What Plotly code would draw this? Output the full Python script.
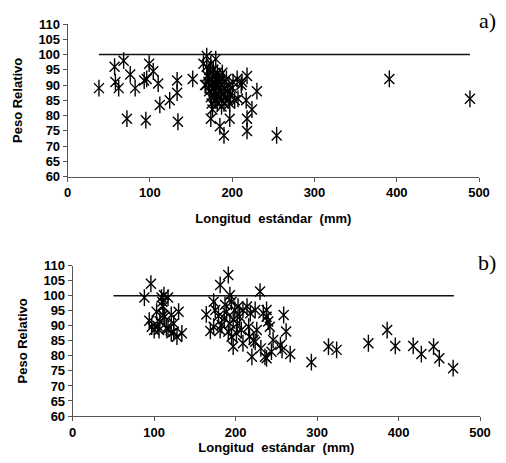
import plotly.graph_objects as go

# ---- Panel a) data ----
xa = [38, 57, 58, 62, 68, 72, 76, 82, 93, 96, 95, 99, 104, 110, 112, 124, 133, 133, 134, 152,
      165, 167, 169, 180,
      168, 169, 170, 171, 172, 172, 173, 174, 174, 175, 175, 176, 176, 177, 177, 178, 178,
      179, 179, 180, 180, 181, 181, 182, 182, 183, 184, 184, 185, 186, 187, 187, 188, 189,
      190, 190, 191, 192, 193, 194, 195, 196, 197, 198, 200, 201, 203,
      174, 187, 185, 190, 197, 206, 207, 211, 212, 218, 217, 218, 218, 224, 230, 254, 391, 489]
ya = [89, 96, 91, 89, 98, 79, 93.5, 89, 91.5, 92, 78.5, 97, 94.5, 90.5, 83.5, 85, 91.5, 87.5, 78, 92,
      97, 90, 99.5, 98.5,
      90, 96, 93, 91, 95, 88, 92, 86, 97, 90, 84, 93, 82, 89, 95, 91, 86,
      88, 93, 90, 85, 92, 87, 94, 84, 89, 91, 86, 93, 88, 85, 90, 94, 87,
      84, 91, 89, 86, 92, 88, 85, 90, 84, 87, 89, 91, 85,
      79, 83, 76.5, 73.5, 79, 92, 85.5, 90, 91, 93, 85, 79, 75, 82, 88, 73.5, 92, 85.5]

# ---- Panel b) data ----
xb = [88, 96, 94, 97, 100, 103, 107, 109, 110, 111, 112, 106, 113, 115, 117, 121, 124, 121, 128, 130, 134,
      111, 104, 117, 124,
      164, 169, 173, 175, 179, 181, 183, 186, 189, 191, 193, 195, 197, 197, 199, 201, 202, 205,
      207, 209, 214, 217, 218, 220, 222, 224, 226, 230, 231, 234, 236, 238, 238, 240, 242, 244,
      246, 255, 257, 259, 262, 267,
      191, 195, 181, 203, 216, 224, 209, 193, 187, 173, 238,
      293, 314, 324, 363, 386, 396, 418, 428, 443, 450, 467]
yb = [99.4, 104, 91.7, 89.7, 88.6, 94.7, 91.4, 99.4, 98, 96.4, 100.2, 88.6, 93, 89.2, 99.4, 87.5, 90.8, 93.6, 86.4, 94.7, 87.5,
      93.5, 90, 89, 88,
      93.8, 88.3, 98, 95.3, 93.3, 103.6, 90.3, 92.5, 94.7, 106.9, 100.2, 98, 92, 83.1, 95.3, 87.5, 90.8, 93,
      88.6, 95.3, 96.4, 86.4, 94.2, 79.7, 85.3, 95.3, 88.6, 101.4, 82.5, 94.2, 79.7, 79.2, 93, 91.4, 89.7, 81.4,
      85.3, 83.6, 82, 93.6, 88.1, 80.6,
      88, 86.4, 88.6, 96.4, 89.7, 84.7, 84.2, 90.8, 97, 89.7, 95.3,
      77.9, 83.1, 82, 84.2, 88.6, 83.3, 83.3, 80.6, 83.1, 79.2, 75.9]

# reference line (Peso Relativo = 100)
ref_a_x = [38, 489]
ref_b_x = [50, 468]
ref_y = [100, 100]

x_ticks = [0, 100, 200, 300, 400, 500]
y_ticks = [60, 65, 70, 75, 80, 85, 90, 95, 100, 105, 110]

fig = go.Figure()

def add_panel(xs, ys, refx, xa_name, ya_name):
    fig.add_trace(go.Scatter(x=refx, y=ref_y, mode="lines", line=dict(color="#111", width=1.6),
                             xaxis=xa_name, yaxis=ya_name, showlegend=False, hoverinfo="skip"))
    fig.add_trace(go.Scatter(x=xs, y=ys, mode="markers",
                             marker=dict(symbol="x-thin-open", size=10, color="black",
                                         line=dict(color="black", width=1.4)),
                             xaxis=xa_name, yaxis=ya_name, showlegend=False))
    fig.add_trace(go.Scatter(x=xs, y=ys, mode="markers",
                             marker=dict(symbol="line-ns-open", size=12, color="black",
                                         line=dict(color="black", width=1.4)),
                             xaxis=xa_name, yaxis=ya_name, showlegend=False, hoverinfo="skip"))

add_panel(xa, ya, ref_a_x, "x", "y")
add_panel(xb, yb, ref_b_x, "x2", "y2")

# page body has an 8px default margin; size the figure so it fits the window
OFF = 8
W, H = 506 - 2 * OFF, 463 - 2 * OFF

def px_x(p):
    return (p - OFF) / W

def px_y(p):
    return 1 - (p - OFF) / H

tickfont = dict(family="Liberation Sans, Arial", size=13, color="black")
titlefont = dict(family="Liberation Sans, Arial", size=13, color="black")

def xaxis_def(dom, anchor):
    return dict(domain=dom, anchor=anchor, range=[0, 500], tickvals=x_ticks,
                ticktext=[f"<b>{v}</b>" for v in x_ticks], ticks="outside", ticklen=4,
                tickcolor="#555", showline=True, linecolor="#555", linewidth=1,
                showgrid=False, zeroline=False, tickfont=tickfont, automargin=False,
                title=dict(text="<b>Longitud  estándar  (mm)</b>", font=titlefont, standoff=14))

def yaxis_def(dom, anchor):
    return dict(domain=dom, anchor=anchor, range=[60, 110], tickvals=y_ticks,
                ticktext=[f"<b>{v}</b>" for v in y_ticks], ticks="outside", ticklen=4,
                tickcolor="#555", showline=True, linecolor="#555", linewidth=1,
                showgrid=False, zeroline=False, tickfont=tickfont, automargin=False,
                title=dict(text="<b>Peso Relativo</b>", font=titlefont, standoff=12))

fig.update_layout(
    width=W, height=H, margin=dict(l=0, r=0, t=0, b=0, autoexpand=False),
    paper_bgcolor="white", plot_bgcolor="white",
    xaxis=xaxis_def([px_x(67.7), px_x(479)], "y"),
    yaxis=yaxis_def([px_y(176.7), px_y(24)], "x"),
    xaxis2=xaxis_def([px_x(72.7), px_x(480)], "y2"),
    yaxis2=yaxis_def([px_y(416), px_y(265.7)], "x2"),
    annotations=[
        dict(text="a)", x=px_x(498), y=px_y(21), xref="paper", yref="paper", xanchor="right",
             yanchor="middle", showarrow=False,
             font=dict(family="Liberation Serif, Times New Roman", size=22, color="black")),
        dict(text="b)", x=px_x(498), y=px_y(262), xref="paper", yref="paper", xanchor="right",
             yanchor="middle", showarrow=False,
             font=dict(family="Liberation Serif, Times New Roman", size=22, color="black")),
    ],
)

fig.write_html("out.html")
